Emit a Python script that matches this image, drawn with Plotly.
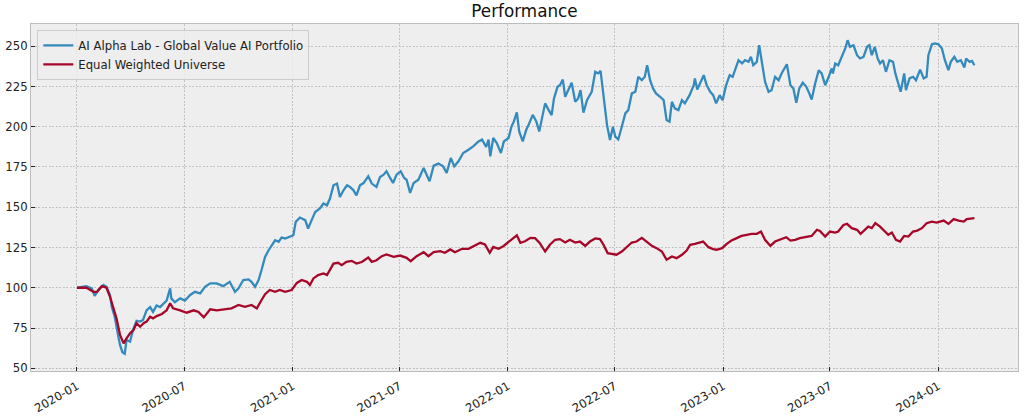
import pandas as pd
import plotly.graph_objects as go

START = "2020-01-01"

# AI Alpha Lab - Global Value AI Portfolio (day offset from START, value)
port_days = [0, 16, 25, 30, 36, 45, 50, 56, 59, 64, 70, 73, 77, 81, 84, 90, 95, 101, 107, 112,
             118, 124, 129, 135, 141, 146, 152, 158, 160, 166, 175, 183, 192, 200, 209, 217, 226, 237, 248,
             259, 268, 274, 282, 291, 296, 302, 308, 313, 319, 325, 330, 336, 342, 347, 353, 361, 367,
             371, 378, 387, 392, 398, 404, 412, 418, 424, 429, 435, 441, 446, 452, 458, 463, 469, 474,
             480, 486, 494, 500, 508, 514,
             520, 525, 531, 536, 542, 549, 555, 559, 565, 571, 579, 588, 593, 598, 605, 613, 621, 627,
             634, 640, 647, 655, 664, 672, 681, 687, 694, 698, 701, 706, 712, 719, 724, 732, 737, 741,
             746, 750, 756, 762, 766, 773, 779, 784,
             788, 794, 800, 805, 809, 815, 819, 824, 828, 833, 839, 845, 850, 854, 859, 865, 870, 873,
             879, 884, 888, 893, 899, 904, 909, 913, 918, 924, 930, 935, 941, 947, 952, 958, 963, 967,
             972, 977, 982, 989, 995, 1000, 1005, 1009, 1014, 1020, 1026, 1031, 1039,
             1046, 1048, 1052, 1057, 1063, 1068, 1074, 1079, 1084, 1090, 1095, 1101, 1107, 1112, 1116,
             1122, 1128, 1133, 1139, 1143, 1147, 1153, 1157, 1161, 1167, 1173, 1178, 1184, 1190, 1195,
             1201, 1204, 1210, 1215, 1220, 1225, 1231, 1237, 1242, 1246, 1252, 1258, 1263, 1269, 1275,
             1280, 1282, 1286, 1291, 1297, 1303, 1307, 1311, 1317, 1323, 1328, 1334, 1340, 1344, 1348,
             1353, 1358, 1362, 1367, 1372, 1378, 1384, 1388, 1392, 1397, 1403, 1406, 1412, 1418, 1423,
             1430, 1436, 1441, 1444, 1450, 1455, 1461, 1467, 1472, 1478, 1482, 1488, 1493, 1499, 1505,
             1508, 1514, 1518, 1522]
port_vals = [100, 101, 99.6, 95, 98.5, 101.7, 100.6, 95.5, 88, 82, 70, 64.5, 60, 59, 67.6, 66.5, 73.8, 79.5, 79, 80,
             86, 88, 85, 89, 88, 90, 92, 99.6, 93.4, 91, 93.4, 92, 95.5, 97.5, 96.5, 100.6, 102.7, 102.7, 101,
             103.7, 97.5, 99.6, 104.8, 105.2, 103.7, 100.6, 104.8, 111, 119.2, 123.3, 126.4, 129.5, 128.5, 131.2, 130.6, 132, 132.6,
             140.9, 143.6, 142, 136.8, 142, 147, 149.2, 152.3, 151.2, 155.4, 163.6, 164.7, 156.4, 160.5, 163.6, 162.6, 160.5, 157.4,
             163.6, 165, 169.2, 164.7, 162.6, 168.8,
             170.2, 172.3, 168.2, 165.1, 170.2, 172.3, 168.2, 167.1, 158.9, 165.1, 167.1, 174.4, 170.2, 166.1, 175.8, 177.1, 175.4, 171.3,
             180.6, 175.4, 178.5, 183.7, 185.7, 187.8, 190.9, 192, 187.4, 192, 181.6, 193, 189.9, 183.7, 190.9, 193, 200.2, 203.3,
             208.9, 197.1, 190.9, 198.1, 201.2, 207.4, 203.3, 197.1,
             204.1, 214.5, 210.3, 207.2, 217.6, 224.8, 225.8, 229.3, 218.6, 222.7, 227.3, 215.5, 217.6, 222.7, 208.7, 216.5, 219.6, 221.7,
             234.1, 233.1, 234.7, 218.6, 201, 191.7, 200, 193.8, 192.1, 200, 208.3, 210.3, 220.7, 221.7, 231, 228.9, 231, 238.2,
             228.9, 223.8, 220.7, 218.6, 216.5, 204.1, 203.1, 215.5, 211.4, 210.3, 216.5, 214.5, 219.6,
             225.8, 230, 223.1, 226.9, 232, 225.8, 221.7, 219.6, 214.5, 219.6, 216.5, 225.8, 232, 231, 234.7,
             241.3, 239.3, 241.3, 240.3, 243.4, 238.2, 240.3, 250.6, 241.3, 227.9, 221.7, 222.7, 231, 228.9, 233.1,
             237.2, 238.8, 225.8, 223.8, 214.9, 223.8, 227.3, 224.8, 220.7, 216.9, 226.9, 235.1, 233.1, 225.8, 231,
             236.2, 233.1, 239.3, 238.2, 243.4, 248.6, 253.7, 249.6, 250.6, 244.4, 242.4, 243.4, 249.6, 250.6, 244.4,
             249.6, 242.4, 239.3, 241.3, 234.1, 241.3, 240.3, 233.1, 227.9, 221.7, 233.1, 222.7, 230, 231, 228.9,
             235.5, 230, 231, 244.4, 251.2, 251.7, 251.2, 248.6, 241.3, 235.1, 240.3, 243.4, 240.3, 241.3, 236.8,
             242.4, 240.3, 240.9, 238.2]

# Equal Weighted Universe
univ_days = [0, 16, 28, 34, 42, 50, 56, 62, 67, 73, 79, 84, 90, 96, 101, 107, 113, 118, 124, 129,
             135, 144, 152, 158, 163, 175, 186, 198, 206, 215, 226, 237, 248,
             262, 274, 285, 296, 305, 313, 319, 327, 336, 344, 353, 364, 373, 381, 390, 395, 401, 409,
             418, 424, 429, 435, 443, 449, 457, 466, 474, 483, 494, 500, 508, 517,
             525, 537, 548, 559, 566, 576, 588, 596, 605, 616, 624, 633, 641, 653, 664, 672, 684, 692,
             700, 706, 715, 723, 732, 740, 746, 752, 760, 769, 777,
             785, 794, 802, 811, 819, 828, 836, 845, 853, 862, 870, 879, 887, 893, 900, 907, 915, 924,
             932, 941, 949, 958, 966, 975, 983, 992, 1000, 1009, 1017, 1026, 1034,
             1040, 1048, 1057, 1062, 1071, 1079, 1085, 1094, 1102, 1110, 1119, 1127, 1136, 1144, 1153,
             1160, 1167, 1176, 1184, 1193, 1203, 1210, 1218, 1226, 1237, 1246, 1255, 1260, 1269, 1277, 1286,
             1291, 1300, 1306, 1314, 1323, 1329, 1337, 1342, 1348, 1354, 1362, 1371, 1376, 1382, 1389,
             1396, 1403, 1410, 1418, 1425, 1433, 1441, 1450, 1458, 1470, 1478, 1487, 1495, 1504, 1509,
             1518, 1522]
univ_vals = [100, 100, 97.5, 97.5, 101, 100, 94.4, 87, 81, 70.7, 65.5, 68.6, 71.7, 73.8, 78, 75.8, 78, 79, 82, 81,
             82.4, 83.7, 86, 90.3, 87.2, 86, 84.5, 86, 85, 81.6, 86.6, 86, 86.6,
             87.2, 89.3, 88.2, 89.3, 87.2, 92.4, 96, 98.6, 97.5, 98.6, 97.5, 98.6, 103, 104.8, 103.7, 101.7, 105.8, 107.9,
             108.9, 107.9, 111, 115, 115.5, 114, 116.1, 116.7, 115, 116, 118.8, 116.1, 117.1, 119.6,
             120.7, 119.2, 120, 118.6, 116.5, 119.6, 122.1, 119.6, 122.1, 122.7, 121.7, 123.8, 122.1, 124.2, 124.2, 125.8, 127.9, 126.9,
             121.7, 125.4, 124.2, 125.8, 128.3, 131, 132.6, 127.9, 128.9, 131, 130.8,
             127.7, 122.5, 126.7, 129.8, 130.2, 128.1, 129.8, 128.1, 128.7, 126, 128.7, 130.6, 130.2, 126.7, 121.5, 121.1, 120.5, 122.5,
             125.2, 128.1, 128.7, 131, 128.7, 126, 124.6, 122.5, 117.4, 119.4, 118.4, 120.5, 123.1,
             126.7, 127.3, 128.1, 128.7, 125.2, 124, 123.6, 124.6, 127.3, 129.3, 130.8, 132.2, 132.9, 133.5, 133.5,
             134.9, 129.8, 126, 128.7, 129.8, 131.4, 129.3, 129.8, 130.8, 131.8, 132.2, 136, 135.3, 131.8, 134.9, 134.3,
             134.9, 139, 139.7, 137, 136, 133.5, 136.4, 138, 137, 140.1, 138, 134.9, 132.9, 134.3, 129.8,
             128.7, 132.2, 131.8, 134.9, 135.5, 137, 140.1, 141.1, 140.5, 141.7, 139.7, 142.6, 141.7, 141.1, 142.6,
             143.2, 143.2]

series_names = ["AI Alpha Lab - Global Value AI Portfolio", "Equal Weighted Universe"]
series_colors = ["#348ABD", "#A60628"]
y_ticks = [50, 75, 100, 125, 150, 175, 200, 225, 250]
x_ticks = ["2020-01-01", "2020-07-01", "2021-01-01", "2021-07-01", "2022-01-01",
           "2022-07-01", "2023-01-01", "2023-07-01", "2024-01-01"]
x_tick_labels = ["2020-01", "2020-07", "2021-01", "2021-07", "2022-01",
                 "2022-07", "2023-01", "2023-07", "2024-01"]


def to_dates(days):
    return pd.Timestamp(START) + pd.to_timedelta(days, unit="D")


FONT = "DejaVu Sans"
fig = go.Figure()
for name, color, days, vals in [
    (series_names[0], series_colors[0], port_days, port_vals),
    (series_names[1], series_colors[1], univ_days, univ_vals),
]:
    fig.add_trace(go.Scatter(x=to_dates(days), y=vals, mode="lines", name=name,
                             line=dict(color=color, width=2.3)))

axis_common = dict(
    showgrid=True, gridcolor="#c2c2c2", gridwidth=0.6, griddash="2px,1.5px",
    showline=True, mirror=True, linecolor="#bcbcbc", linewidth=1,
    ticks="inside", ticklen=4, tickwidth=1, tickcolor="#222222",
    tickfont=dict(family=FONT, size=11.7, color="#222222"),
    zeroline=False, automargin=False,
)

fig.update_layout(
    width=1024, height=416,
    margin=dict(l=31, r=6, t=24, b=45, autoexpand=False),
    paper_bgcolor="white", plot_bgcolor="#eeeeee",
    title=dict(text="Performance", x=0.5, xref="paper", xanchor="center",
               y=1 - 11.5 / 416, yref="container", yanchor="middle",
               font=dict(family=FONT, size=16.8, color="#111111")),
    xaxis=dict(type="date", range=["2019-10-15", "2024-05-15"],
               tickvals=x_ticks, ticktext=x_tick_labels, tickangle=-30,
               ticklabelstandoff=3, **axis_common),
    yaxis=dict(range=[48.3, 263.8], tickvals=y_ticks, **axis_common),
    legend=dict(x=0.0064, y=0.983, xanchor="left", yanchor="top",
                bgcolor="rgba(238,238,238,0.8)", bordercolor="#cccccc", borderwidth=1,
                font=dict(family=FONT, size=11.7, color="#222222"), itemwidth=30),
    showlegend=True,
)

fig.write_html("out.html")
